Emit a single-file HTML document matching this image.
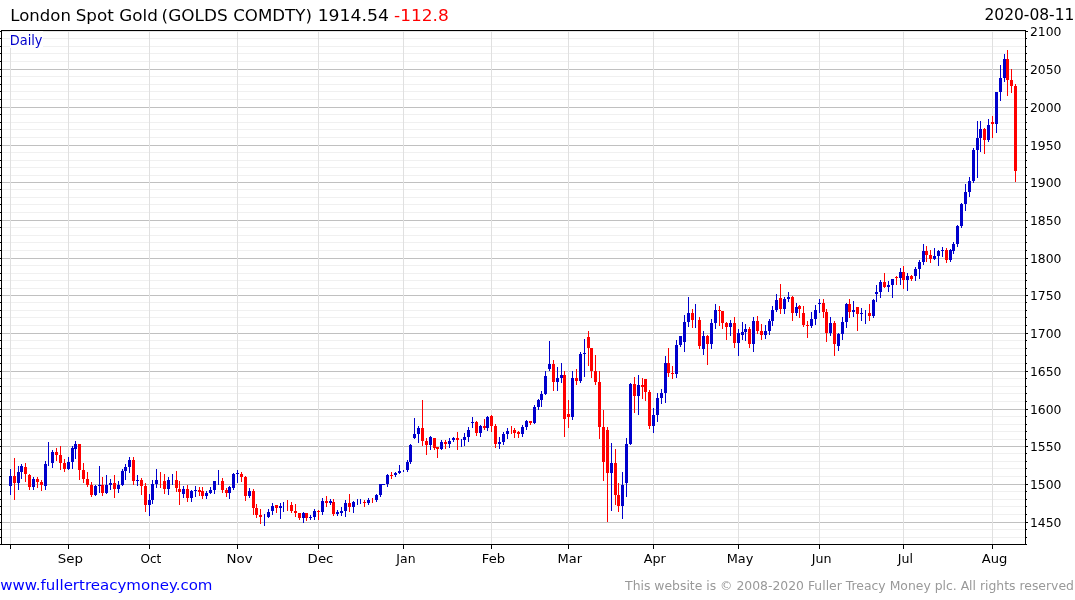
<!DOCTYPE html>
<html><head><meta charset="utf-8"><title>London Spot Gold</title>
<style>
html,body{margin:0;padding:0;background:#fff;}
body{width:1075px;height:600px;overflow:hidden;position:relative;font-family:"DejaVu Sans","Liberation Sans",sans-serif;}
svg{position:absolute;left:0;top:0;will-change:transform;}
text{font-family:"DejaVu Sans","Liberation Sans",sans-serif;}
</style></head><body>
<svg width="1075" height="600" viewBox="0 0 1075 600">
<rect width="1075" height="600" fill="#fff"/>
<g shape-rendering="crispEdges">
<rect x="2" y="537" width="1023" height="1" fill="#f0f0f0"/>
<rect x="2" y="529" width="1023" height="1" fill="#f0f0f0"/>
<rect x="2" y="522" width="1023" height="1" fill="#c0c0c0"/>
<rect x="2" y="514" width="1023" height="1" fill="#f0f0f0"/>
<rect x="2" y="506" width="1023" height="1" fill="#f0f0f0"/>
<rect x="2" y="499" width="1023" height="1" fill="#f0f0f0"/>
<rect x="2" y="491" width="1023" height="1" fill="#f0f0f0"/>
<rect x="2" y="484" width="1023" height="1" fill="#c0c0c0"/>
<rect x="2" y="476" width="1023" height="1" fill="#f0f0f0"/>
<rect x="2" y="468" width="1023" height="1" fill="#f0f0f0"/>
<rect x="2" y="461" width="1023" height="1" fill="#f0f0f0"/>
<rect x="2" y="453" width="1023" height="1" fill="#f0f0f0"/>
<rect x="2" y="446" width="1023" height="1" fill="#c0c0c0"/>
<rect x="2" y="439" width="1023" height="1" fill="#f0f0f0"/>
<rect x="2" y="431" width="1023" height="1" fill="#f0f0f0"/>
<rect x="2" y="424" width="1023" height="1" fill="#f0f0f0"/>
<rect x="2" y="416" width="1023" height="1" fill="#f0f0f0"/>
<rect x="2" y="409" width="1023" height="1" fill="#c0c0c0"/>
<rect x="2" y="401" width="1023" height="1" fill="#f0f0f0"/>
<rect x="2" y="393" width="1023" height="1" fill="#f0f0f0"/>
<rect x="2" y="386" width="1023" height="1" fill="#f0f0f0"/>
<rect x="2" y="378" width="1023" height="1" fill="#f0f0f0"/>
<rect x="2" y="371" width="1023" height="1" fill="#c0c0c0"/>
<rect x="2" y="363" width="1023" height="1" fill="#f0f0f0"/>
<rect x="2" y="355" width="1023" height="1" fill="#f0f0f0"/>
<rect x="2" y="348" width="1023" height="1" fill="#f0f0f0"/>
<rect x="2" y="340" width="1023" height="1" fill="#f0f0f0"/>
<rect x="2" y="333" width="1023" height="1" fill="#c0c0c0"/>
<rect x="2" y="325" width="1023" height="1" fill="#f0f0f0"/>
<rect x="2" y="317" width="1023" height="1" fill="#f0f0f0"/>
<rect x="2" y="310" width="1023" height="1" fill="#f0f0f0"/>
<rect x="2" y="302" width="1023" height="1" fill="#f0f0f0"/>
<rect x="2" y="295" width="1023" height="1" fill="#c0c0c0"/>
<rect x="2" y="288" width="1023" height="1" fill="#f0f0f0"/>
<rect x="2" y="280" width="1023" height="1" fill="#f0f0f0"/>
<rect x="2" y="273" width="1023" height="1" fill="#f0f0f0"/>
<rect x="2" y="265" width="1023" height="1" fill="#f0f0f0"/>
<rect x="2" y="258" width="1023" height="1" fill="#c0c0c0"/>
<rect x="2" y="250" width="1023" height="1" fill="#f0f0f0"/>
<rect x="2" y="242" width="1023" height="1" fill="#f0f0f0"/>
<rect x="2" y="235" width="1023" height="1" fill="#f0f0f0"/>
<rect x="2" y="227" width="1023" height="1" fill="#f0f0f0"/>
<rect x="2" y="220" width="1023" height="1" fill="#c0c0c0"/>
<rect x="2" y="212" width="1023" height="1" fill="#f0f0f0"/>
<rect x="2" y="204" width="1023" height="1" fill="#f0f0f0"/>
<rect x="2" y="197" width="1023" height="1" fill="#f0f0f0"/>
<rect x="2" y="189" width="1023" height="1" fill="#f0f0f0"/>
<rect x="2" y="182" width="1023" height="1" fill="#c0c0c0"/>
<rect x="2" y="175" width="1023" height="1" fill="#f0f0f0"/>
<rect x="2" y="167" width="1023" height="1" fill="#f0f0f0"/>
<rect x="2" y="160" width="1023" height="1" fill="#f0f0f0"/>
<rect x="2" y="152" width="1023" height="1" fill="#f0f0f0"/>
<rect x="2" y="145" width="1023" height="1" fill="#c0c0c0"/>
<rect x="2" y="137" width="1023" height="1" fill="#f0f0f0"/>
<rect x="2" y="129" width="1023" height="1" fill="#f0f0f0"/>
<rect x="2" y="122" width="1023" height="1" fill="#f0f0f0"/>
<rect x="2" y="114" width="1023" height="1" fill="#f0f0f0"/>
<rect x="2" y="107" width="1023" height="1" fill="#c0c0c0"/>
<rect x="2" y="99" width="1023" height="1" fill="#f0f0f0"/>
<rect x="2" y="91" width="1023" height="1" fill="#f0f0f0"/>
<rect x="2" y="84" width="1023" height="1" fill="#f0f0f0"/>
<rect x="2" y="76" width="1023" height="1" fill="#f0f0f0"/>
<rect x="2" y="69" width="1023" height="1" fill="#c0c0c0"/>
<rect x="2" y="61" width="1023" height="1" fill="#f0f0f0"/>
<rect x="2" y="53" width="1023" height="1" fill="#f0f0f0"/>
<rect x="2" y="46" width="1023" height="1" fill="#f0f0f0"/>
<rect x="2" y="38" width="1023" height="1" fill="#f0f0f0"/>
<rect x="2" y="31" width="1023" height="1" fill="#e4e4e4"/>
<rect x="10" y="31" width="1" height="513" fill="#e0e0e0"/>
<rect x="68" y="31" width="1" height="513" fill="#e0e0e0"/>
<rect x="149" y="31" width="1" height="513" fill="#e0e0e0"/>
<rect x="237" y="31" width="1" height="513" fill="#e0e0e0"/>
<rect x="318" y="31" width="1" height="513" fill="#e0e0e0"/>
<rect x="403" y="31" width="1" height="513" fill="#e0e0e0"/>
<rect x="491" y="31" width="1" height="513" fill="#e0e0e0"/>
<rect x="568" y="31" width="1" height="513" fill="#e0e0e0"/>
<rect x="653" y="31" width="1" height="513" fill="#e0e0e0"/>
<rect x="738" y="31" width="1" height="513" fill="#e0e0e0"/>
<rect x="819" y="31" width="1" height="513" fill="#e0e0e0"/>
<rect x="903" y="31" width="1" height="513" fill="#e0e0e0"/>
<rect x="992" y="31" width="1" height="513" fill="#e0e0e0"/>
</g>
<g shape-rendering="crispEdges">
<rect x="10" y="469" width="1" height="26" fill="#0000cc"/>
<rect x="9" y="476" width="3" height="10" fill="#0000cc"/>
<rect x="14" y="458" width="1" height="42" fill="#ff0000"/>
<rect x="13" y="476" width="3" height="7" fill="#ff0000"/>
<rect x="18" y="466" width="1" height="24" fill="#0000cc"/>
<rect x="17" y="472" width="3" height="11" fill="#0000cc"/>
<rect x="21" y="464" width="1" height="15" fill="#0000cc"/>
<rect x="20" y="466" width="3" height="6" fill="#0000cc"/>
<rect x="25" y="463" width="1" height="19" fill="#ff0000"/>
<rect x="24" y="467" width="3" height="7" fill="#ff0000"/>
<rect x="29" y="474" width="1" height="16" fill="#ff0000"/>
<rect x="28" y="475" width="3" height="12" fill="#ff0000"/>
<rect x="33" y="477" width="1" height="13" fill="#0000cc"/>
<rect x="32" y="479" width="3" height="8" fill="#0000cc"/>
<rect x="37" y="477" width="1" height="11" fill="#ff0000"/>
<rect x="36" y="479" width="3" height="3" fill="#ff0000"/>
<rect x="41" y="480" width="1" height="11" fill="#ff0000"/>
<rect x="40" y="482" width="3" height="3" fill="#ff0000"/>
<rect x="45" y="461" width="1" height="29" fill="#0000cc"/>
<rect x="44" y="464" width="3" height="22" fill="#0000cc"/>
<rect x="48" y="442" width="1" height="24" fill="#0000cc"/>
<rect x="52" y="450" width="1" height="18" fill="#0000cc"/>
<rect x="51" y="452" width="3" height="11" fill="#0000cc"/>
<rect x="56" y="448" width="1" height="13" fill="#ff0000"/>
<rect x="55" y="452" width="3" height="3" fill="#ff0000"/>
<rect x="60" y="446" width="1" height="24" fill="#ff0000"/>
<rect x="59" y="455" width="3" height="8" fill="#ff0000"/>
<rect x="64" y="459" width="1" height="13" fill="#ff0000"/>
<rect x="63" y="463" width="3" height="6" fill="#ff0000"/>
<rect x="68" y="457" width="1" height="13" fill="#0000cc"/>
<rect x="67" y="462" width="3" height="7" fill="#0000cc"/>
<rect x="72" y="446" width="1" height="23" fill="#0000cc"/>
<rect x="71" y="448" width="3" height="14" fill="#0000cc"/>
<rect x="75" y="441" width="1" height="18" fill="#0000cc"/>
<rect x="74" y="444" width="3" height="5" fill="#0000cc"/>
<rect x="79" y="444" width="1" height="36" fill="#ff0000"/>
<rect x="78" y="444" width="3" height="26" fill="#ff0000"/>
<rect x="83" y="463" width="1" height="20" fill="#ff0000"/>
<rect x="82" y="470" width="3" height="9" fill="#ff0000"/>
<rect x="87" y="472" width="1" height="15" fill="#ff0000"/>
<rect x="86" y="479" width="3" height="6" fill="#ff0000"/>
<rect x="91" y="482" width="1" height="15" fill="#ff0000"/>
<rect x="90" y="485" width="3" height="10" fill="#ff0000"/>
<rect x="95" y="485" width="1" height="11" fill="#0000cc"/>
<rect x="94" y="486" width="3" height="9" fill="#0000cc"/>
<rect x="99" y="466" width="1" height="27" fill="#0000cc"/>
<rect x="98" y="485" width="3" height="1" fill="#0000cc"/>
<rect x="102" y="477" width="1" height="19" fill="#ff0000"/>
<rect x="101" y="485" width="3" height="8" fill="#ff0000"/>
<rect x="106" y="475" width="1" height="19" fill="#0000cc"/>
<rect x="105" y="485" width="3" height="8" fill="#0000cc"/>
<rect x="110" y="479" width="1" height="11" fill="#0000cc"/>
<rect x="109" y="483" width="3" height="2" fill="#0000cc"/>
<rect x="114" y="475" width="1" height="23" fill="#ff0000"/>
<rect x="113" y="483" width="3" height="6" fill="#ff0000"/>
<rect x="118" y="481" width="1" height="12" fill="#0000cc"/>
<rect x="117" y="485" width="3" height="4" fill="#0000cc"/>
<rect x="122" y="469" width="1" height="17" fill="#0000cc"/>
<rect x="121" y="471" width="3" height="14" fill="#0000cc"/>
<rect x="125" y="464" width="1" height="16" fill="#0000cc"/>
<rect x="124" y="467" width="3" height="4" fill="#0000cc"/>
<rect x="129" y="457" width="1" height="16" fill="#0000cc"/>
<rect x="128" y="460" width="3" height="7" fill="#0000cc"/>
<rect x="133" y="457" width="1" height="28" fill="#ff0000"/>
<rect x="132" y="460" width="3" height="21" fill="#ff0000"/>
<rect x="137" y="475" width="1" height="11" fill="#0000cc"/>
<rect x="136" y="480" width="3" height="1" fill="#0000cc"/>
<rect x="141" y="478" width="1" height="17" fill="#ff0000"/>
<rect x="140" y="480" width="3" height="6" fill="#ff0000"/>
<rect x="145" y="483" width="1" height="29" fill="#ff0000"/>
<rect x="144" y="486" width="3" height="19" fill="#ff0000"/>
<rect x="149" y="494" width="1" height="22" fill="#0000cc"/>
<rect x="148" y="500" width="3" height="5" fill="#0000cc"/>
<rect x="152" y="480" width="1" height="24" fill="#0000cc"/>
<rect x="151" y="484" width="3" height="16" fill="#0000cc"/>
<rect x="156" y="469" width="1" height="19" fill="#0000cc"/>
<rect x="155" y="480" width="3" height="4" fill="#0000cc"/>
<rect x="160" y="472" width="1" height="16" fill="#ff0000"/>
<rect x="164" y="474" width="1" height="20" fill="#ff0000"/>
<rect x="163" y="481" width="3" height="8" fill="#ff0000"/>
<rect x="168" y="477" width="1" height="18" fill="#0000cc"/>
<rect x="167" y="480" width="3" height="9" fill="#0000cc"/>
<rect x="172" y="474" width="1" height="11" fill="#0000cc"/>
<rect x="176" y="471" width="1" height="21" fill="#ff0000"/>
<rect x="175" y="480" width="3" height="8" fill="#ff0000"/>
<rect x="179" y="481" width="1" height="24" fill="#ff0000"/>
<rect x="178" y="489" width="3" height="3" fill="#ff0000"/>
<rect x="183" y="486" width="1" height="12" fill="#0000cc"/>
<rect x="182" y="489" width="3" height="5" fill="#0000cc"/>
<rect x="187" y="485" width="1" height="17" fill="#ff0000"/>
<rect x="186" y="489" width="3" height="9" fill="#ff0000"/>
<rect x="191" y="490" width="1" height="12" fill="#0000cc"/>
<rect x="190" y="491" width="3" height="7" fill="#0000cc"/>
<rect x="195" y="486" width="1" height="11" fill="#0000cc"/>
<rect x="194" y="490" width="3" height="1" fill="#0000cc"/>
<rect x="199" y="487" width="1" height="9" fill="#ff0000"/>
<rect x="198" y="490" width="3" height="2" fill="#ff0000"/>
<rect x="202" y="487" width="1" height="12" fill="#ff0000"/>
<rect x="201" y="491" width="3" height="5" fill="#ff0000"/>
<rect x="206" y="491" width="1" height="8" fill="#0000cc"/>
<rect x="205" y="493" width="3" height="3" fill="#0000cc"/>
<rect x="210" y="487" width="1" height="7" fill="#0000cc"/>
<rect x="209" y="490" width="3" height="3" fill="#0000cc"/>
<rect x="214" y="481" width="1" height="13" fill="#0000cc"/>
<rect x="213" y="481" width="3" height="9" fill="#0000cc"/>
<rect x="218" y="470" width="1" height="15" fill="#0000cc"/>
<rect x="222" y="478" width="1" height="15" fill="#ff0000"/>
<rect x="221" y="481" width="3" height="9" fill="#ff0000"/>
<rect x="226" y="488" width="1" height="9" fill="#ff0000"/>
<rect x="225" y="490" width="3" height="3" fill="#ff0000"/>
<rect x="229" y="486" width="1" height="13" fill="#0000cc"/>
<rect x="228" y="487" width="3" height="6" fill="#0000cc"/>
<rect x="233" y="473" width="1" height="17" fill="#0000cc"/>
<rect x="232" y="474" width="3" height="14" fill="#0000cc"/>
<rect x="237" y="470" width="1" height="13" fill="#0000cc"/>
<rect x="236" y="473" width="3" height="1" fill="#0000cc"/>
<rect x="241" y="472" width="1" height="10" fill="#ff0000"/>
<rect x="240" y="474" width="3" height="3" fill="#ff0000"/>
<rect x="245" y="476" width="1" height="25" fill="#ff0000"/>
<rect x="244" y="477" width="3" height="19" fill="#ff0000"/>
<rect x="249" y="488" width="1" height="10" fill="#0000cc"/>
<rect x="248" y="491" width="3" height="5" fill="#0000cc"/>
<rect x="253" y="489" width="1" height="26" fill="#ff0000"/>
<rect x="252" y="491" width="3" height="17" fill="#ff0000"/>
<rect x="256" y="504" width="1" height="14" fill="#ff0000"/>
<rect x="255" y="508" width="3" height="7" fill="#ff0000"/>
<rect x="260" y="509" width="1" height="15" fill="#ff0000"/>
<rect x="259" y="515" width="3" height="2" fill="#ff0000"/>
<rect x="264" y="514" width="1" height="12" fill="#0000cc"/>
<rect x="268" y="509" width="1" height="9" fill="#0000cc"/>
<rect x="267" y="512" width="3" height="5" fill="#0000cc"/>
<rect x="272" y="503" width="1" height="12" fill="#0000cc"/>
<rect x="271" y="506" width="3" height="5" fill="#0000cc"/>
<rect x="276" y="505" width="1" height="8" fill="#ff0000"/>
<rect x="275" y="505" width="3" height="3" fill="#ff0000"/>
<rect x="280" y="503" width="1" height="16" fill="#0000cc"/>
<rect x="279" y="506" width="3" height="2" fill="#0000cc"/>
<rect x="283" y="502" width="1" height="10" fill="#0000cc"/>
<rect x="287" y="500" width="1" height="11" fill="#ff0000"/>
<rect x="291" y="502" width="1" height="11" fill="#ff0000"/>
<rect x="290" y="505" width="3" height="6" fill="#ff0000"/>
<rect x="295" y="504" width="1" height="13" fill="#ff0000"/>
<rect x="294" y="511" width="3" height="2" fill="#ff0000"/>
<rect x="299" y="513" width="1" height="7" fill="#ff0000"/>
<rect x="298" y="513" width="3" height="5" fill="#ff0000"/>
<rect x="303" y="512" width="1" height="11" fill="#0000cc"/>
<rect x="302" y="513" width="3" height="5" fill="#0000cc"/>
<rect x="306" y="513" width="1" height="8" fill="#ff0000"/>
<rect x="305" y="513" width="3" height="5" fill="#ff0000"/>
<rect x="310" y="515" width="1" height="5" fill="#0000cc"/>
<rect x="309" y="517" width="3" height="1" fill="#0000cc"/>
<rect x="314" y="509" width="1" height="11" fill="#0000cc"/>
<rect x="313" y="511" width="3" height="6" fill="#0000cc"/>
<rect x="318" y="510" width="1" height="10" fill="#ff0000"/>
<rect x="317" y="511" width="3" height="1" fill="#ff0000"/>
<rect x="322" y="498" width="1" height="17" fill="#0000cc"/>
<rect x="321" y="501" width="3" height="11" fill="#0000cc"/>
<rect x="326" y="496" width="1" height="11" fill="#ff0000"/>
<rect x="325" y="501" width="3" height="2" fill="#ff0000"/>
<rect x="330" y="499" width="1" height="6" fill="#0000cc"/>
<rect x="329" y="501" width="3" height="2" fill="#0000cc"/>
<rect x="333" y="499" width="1" height="17" fill="#ff0000"/>
<rect x="332" y="502" width="3" height="12" fill="#ff0000"/>
<rect x="337" y="510" width="1" height="6" fill="#0000cc"/>
<rect x="336" y="512" width="3" height="2" fill="#0000cc"/>
<rect x="341" y="507" width="1" height="9" fill="#0000cc"/>
<rect x="340" y="511" width="3" height="2" fill="#0000cc"/>
<rect x="345" y="500" width="1" height="17" fill="#0000cc"/>
<rect x="344" y="503" width="3" height="8" fill="#0000cc"/>
<rect x="349" y="494" width="1" height="18" fill="#ff0000"/>
<rect x="348" y="503" width="3" height="4" fill="#ff0000"/>
<rect x="353" y="501" width="1" height="12" fill="#0000cc"/>
<rect x="352" y="502" width="3" height="5" fill="#0000cc"/>
<rect x="357" y="499" width="1" height="6" fill="#0000cc"/>
<rect x="360" y="499" width="1" height="5" fill="#0000cc"/>
<rect x="364" y="500" width="1" height="7" fill="#ff0000"/>
<rect x="363" y="502" width="3" height="1" fill="#ff0000"/>
<rect x="368" y="498" width="1" height="7" fill="#0000cc"/>
<rect x="367" y="500" width="3" height="3" fill="#0000cc"/>
<rect x="372" y="498" width="1" height="5" fill="#ff0000"/>
<rect x="376" y="494" width="1" height="8" fill="#0000cc"/>
<rect x="375" y="495" width="3" height="5" fill="#0000cc"/>
<rect x="380" y="484" width="1" height="13" fill="#0000cc"/>
<rect x="379" y="484" width="3" height="11" fill="#0000cc"/>
<rect x="382" y="484" width="3" height="1" fill="#0000cc"/>
<rect x="387" y="474" width="1" height="13" fill="#0000cc"/>
<rect x="386" y="475" width="3" height="9" fill="#0000cc"/>
<rect x="391" y="472" width="1" height="7" fill="#ff0000"/>
<rect x="390" y="475" width="3" height="1" fill="#ff0000"/>
<rect x="395" y="472" width="1" height="5" fill="#0000cc"/>
<rect x="394" y="473" width="3" height="2" fill="#0000cc"/>
<rect x="399" y="465" width="1" height="9" fill="#0000cc"/>
<rect x="398" y="471" width="3" height="2" fill="#0000cc"/>
<rect x="403" y="470" width="1" height="2" fill="#0000cc"/>
<rect x="407" y="460" width="1" height="12" fill="#0000cc"/>
<rect x="406" y="462" width="3" height="8" fill="#0000cc"/>
<rect x="410" y="444" width="1" height="20" fill="#0000cc"/>
<rect x="409" y="445" width="3" height="17" fill="#0000cc"/>
<rect x="414" y="418" width="1" height="21" fill="#0000cc"/>
<rect x="413" y="434" width="3" height="4" fill="#0000cc"/>
<rect x="418" y="426" width="1" height="17" fill="#0000cc"/>
<rect x="417" y="428" width="3" height="6" fill="#0000cc"/>
<rect x="422" y="400" width="1" height="46" fill="#ff0000"/>
<rect x="421" y="428" width="3" height="13" fill="#ff0000"/>
<rect x="426" y="438" width="1" height="17" fill="#ff0000"/>
<rect x="425" y="441" width="3" height="4" fill="#ff0000"/>
<rect x="430" y="436" width="1" height="14" fill="#0000cc"/>
<rect x="429" y="437" width="3" height="8" fill="#0000cc"/>
<rect x="434" y="438" width="1" height="12" fill="#ff0000"/>
<rect x="433" y="438" width="3" height="10" fill="#ff0000"/>
<rect x="437" y="447" width="1" height="11" fill="#ff0000"/>
<rect x="436" y="447" width="3" height="2" fill="#ff0000"/>
<rect x="441" y="440" width="1" height="10" fill="#0000cc"/>
<rect x="440" y="442" width="3" height="7" fill="#0000cc"/>
<rect x="445" y="440" width="1" height="9" fill="#ff0000"/>
<rect x="444" y="442" width="3" height="2" fill="#ff0000"/>
<rect x="449" y="438" width="1" height="10" fill="#0000cc"/>
<rect x="448" y="441" width="3" height="3" fill="#0000cc"/>
<rect x="453" y="437" width="1" height="5" fill="#0000cc"/>
<rect x="452" y="438" width="3" height="2" fill="#0000cc"/>
<rect x="457" y="432" width="1" height="18" fill="#ff0000"/>
<rect x="456" y="438" width="3" height="2" fill="#ff0000"/>
<rect x="461" y="439" width="1" height="8" fill="#0000cc"/>
<rect x="464" y="433" width="1" height="13" fill="#0000cc"/>
<rect x="463" y="437" width="3" height="3" fill="#0000cc"/>
<rect x="468" y="427" width="1" height="15" fill="#0000cc"/>
<rect x="467" y="430" width="3" height="7" fill="#0000cc"/>
<rect x="472" y="417" width="1" height="11" fill="#0000cc"/>
<rect x="471" y="422" width="3" height="1" fill="#0000cc"/>
<rect x="476" y="421" width="1" height="15" fill="#ff0000"/>
<rect x="475" y="422" width="3" height="11" fill="#ff0000"/>
<rect x="480" y="425" width="1" height="12" fill="#0000cc"/>
<rect x="479" y="426" width="3" height="7" fill="#0000cc"/>
<rect x="484" y="419" width="1" height="11" fill="#ff0000"/>
<rect x="483" y="426" width="3" height="2" fill="#ff0000"/>
<rect x="487" y="416" width="1" height="15" fill="#0000cc"/>
<rect x="486" y="417" width="3" height="11" fill="#0000cc"/>
<rect x="491" y="415" width="1" height="17" fill="#ff0000"/>
<rect x="490" y="416" width="3" height="10" fill="#ff0000"/>
<rect x="495" y="424" width="1" height="24" fill="#ff0000"/>
<rect x="494" y="426" width="3" height="18" fill="#ff0000"/>
<rect x="499" y="437" width="1" height="12" fill="#0000cc"/>
<rect x="498" y="442" width="3" height="2" fill="#0000cc"/>
<rect x="503" y="432" width="1" height="13" fill="#0000cc"/>
<rect x="502" y="434" width="3" height="8" fill="#0000cc"/>
<rect x="507" y="428" width="1" height="11" fill="#0000cc"/>
<rect x="506" y="431" width="3" height="3" fill="#0000cc"/>
<rect x="511" y="426" width="1" height="8" fill="#ff0000"/>
<rect x="514" y="428" width="1" height="10" fill="#ff0000"/>
<rect x="513" y="430" width="3" height="3" fill="#ff0000"/>
<rect x="518" y="431" width="1" height="7" fill="#ff0000"/>
<rect x="517" y="432" width="3" height="2" fill="#ff0000"/>
<rect x="522" y="425" width="1" height="12" fill="#0000cc"/>
<rect x="521" y="427" width="3" height="7" fill="#0000cc"/>
<rect x="526" y="420" width="1" height="10" fill="#0000cc"/>
<rect x="525" y="421" width="3" height="6" fill="#0000cc"/>
<rect x="530" y="421" width="1" height="4" fill="#ff0000"/>
<rect x="529" y="421" width="3" height="2" fill="#ff0000"/>
<rect x="534" y="405" width="1" height="19" fill="#0000cc"/>
<rect x="533" y="407" width="3" height="16" fill="#0000cc"/>
<rect x="538" y="399" width="1" height="11" fill="#0000cc"/>
<rect x="537" y="400" width="3" height="7" fill="#0000cc"/>
<rect x="541" y="391" width="1" height="16" fill="#0000cc"/>
<rect x="540" y="394" width="3" height="6" fill="#0000cc"/>
<rect x="545" y="371" width="1" height="24" fill="#0000cc"/>
<rect x="544" y="376" width="3" height="18" fill="#0000cc"/>
<rect x="549" y="341" width="1" height="30" fill="#0000cc"/>
<rect x="548" y="364" width="3" height="5" fill="#0000cc"/>
<rect x="553" y="360" width="1" height="31" fill="#ff0000"/>
<rect x="552" y="364" width="3" height="18" fill="#ff0000"/>
<rect x="557" y="367" width="1" height="24" fill="#0000cc"/>
<rect x="556" y="378" width="3" height="4" fill="#0000cc"/>
<rect x="561" y="363" width="1" height="20" fill="#0000cc"/>
<rect x="560" y="375" width="3" height="3" fill="#0000cc"/>
<rect x="564" y="371" width="1" height="66" fill="#ff0000"/>
<rect x="563" y="375" width="3" height="44" fill="#ff0000"/>
<rect x="568" y="400" width="1" height="28" fill="#ff0000"/>
<rect x="567" y="414" width="3" height="3" fill="#ff0000"/>
<rect x="572" y="371" width="1" height="49" fill="#0000cc"/>
<rect x="571" y="378" width="3" height="39" fill="#0000cc"/>
<rect x="576" y="369" width="1" height="16" fill="#ff0000"/>
<rect x="575" y="378" width="3" height="3" fill="#ff0000"/>
<rect x="580" y="352" width="1" height="31" fill="#0000cc"/>
<rect x="579" y="354" width="3" height="27" fill="#0000cc"/>
<rect x="584" y="339" width="1" height="38" fill="#0000cc"/>
<rect x="583" y="353" width="3" height="1" fill="#0000cc"/>
<rect x="588" y="331" width="1" height="35" fill="#ff0000"/>
<rect x="587" y="337" width="3" height="11" fill="#ff0000"/>
<rect x="591" y="348" width="1" height="30" fill="#ff0000"/>
<rect x="590" y="348" width="3" height="23" fill="#ff0000"/>
<rect x="595" y="355" width="1" height="30" fill="#ff0000"/>
<rect x="594" y="371" width="3" height="11" fill="#ff0000"/>
<rect x="599" y="371" width="1" height="68" fill="#ff0000"/>
<rect x="598" y="382" width="3" height="45" fill="#ff0000"/>
<rect x="603" y="410" width="1" height="71" fill="#ff0000"/>
<rect x="602" y="427" width="3" height="35" fill="#ff0000"/>
<rect x="607" y="427" width="1" height="95" fill="#ff0000"/>
<rect x="606" y="430" width="3" height="43" fill="#ff0000"/>
<rect x="611" y="443" width="1" height="68" fill="#0000cc"/>
<rect x="610" y="463" width="3" height="10" fill="#0000cc"/>
<rect x="615" y="449" width="1" height="56" fill="#ff0000"/>
<rect x="614" y="463" width="3" height="32" fill="#ff0000"/>
<rect x="618" y="483" width="1" height="29" fill="#ff0000"/>
<rect x="617" y="495" width="3" height="11" fill="#ff0000"/>
<rect x="622" y="472" width="1" height="47" fill="#0000cc"/>
<rect x="621" y="485" width="3" height="21" fill="#0000cc"/>
<rect x="626" y="438" width="1" height="59" fill="#0000cc"/>
<rect x="625" y="444" width="3" height="39" fill="#0000cc"/>
<rect x="630" y="383" width="1" height="62" fill="#0000cc"/>
<rect x="629" y="384" width="3" height="60" fill="#0000cc"/>
<rect x="634" y="377" width="1" height="36" fill="#ff0000"/>
<rect x="633" y="384" width="3" height="12" fill="#ff0000"/>
<rect x="638" y="375" width="1" height="40" fill="#0000cc"/>
<rect x="637" y="385" width="3" height="11" fill="#0000cc"/>
<rect x="642" y="378" width="1" height="21" fill="#ff0000"/>
<rect x="641" y="385" width="3" height="2" fill="#ff0000"/>
<rect x="645" y="379" width="1" height="22" fill="#ff0000"/>
<rect x="644" y="379" width="3" height="13" fill="#ff0000"/>
<rect x="649" y="390" width="1" height="39" fill="#ff0000"/>
<rect x="648" y="392" width="3" height="34" fill="#ff0000"/>
<rect x="653" y="408" width="1" height="25" fill="#0000cc"/>
<rect x="652" y="415" width="3" height="11" fill="#0000cc"/>
<rect x="657" y="393" width="1" height="29" fill="#0000cc"/>
<rect x="656" y="398" width="3" height="17" fill="#0000cc"/>
<rect x="661" y="389" width="1" height="15" fill="#0000cc"/>
<rect x="660" y="393" width="3" height="5" fill="#0000cc"/>
<rect x="665" y="356" width="1" height="47" fill="#0000cc"/>
<rect x="664" y="363" width="3" height="30" fill="#0000cc"/>
<rect x="668" y="348" width="1" height="29" fill="#ff0000"/>
<rect x="667" y="363" width="3" height="10" fill="#ff0000"/>
<rect x="672" y="366" width="1" height="13" fill="#ff0000"/>
<rect x="671" y="373" width="3" height="1" fill="#ff0000"/>
<rect x="676" y="340" width="1" height="38" fill="#0000cc"/>
<rect x="675" y="345" width="3" height="29" fill="#0000cc"/>
<rect x="680" y="336" width="1" height="11" fill="#0000cc"/>
<rect x="679" y="336" width="3" height="9" fill="#0000cc"/>
<rect x="684" y="315" width="1" height="37" fill="#0000cc"/>
<rect x="683" y="322" width="3" height="20" fill="#0000cc"/>
<rect x="688" y="297" width="1" height="30" fill="#0000cc"/>
<rect x="687" y="313" width="3" height="9" fill="#0000cc"/>
<rect x="692" y="309" width="1" height="19" fill="#ff0000"/>
<rect x="691" y="313" width="3" height="7" fill="#ff0000"/>
<rect x="695" y="304" width="1" height="24" fill="#0000cc"/>
<rect x="699" y="317" width="1" height="32" fill="#ff0000"/>
<rect x="698" y="320" width="3" height="26" fill="#ff0000"/>
<rect x="703" y="331" width="1" height="24" fill="#0000cc"/>
<rect x="702" y="336" width="3" height="13" fill="#0000cc"/>
<rect x="707" y="335" width="1" height="30" fill="#ff0000"/>
<rect x="706" y="336" width="3" height="8" fill="#ff0000"/>
<rect x="711" y="319" width="1" height="30" fill="#0000cc"/>
<rect x="710" y="323" width="3" height="21" fill="#0000cc"/>
<rect x="715" y="304" width="1" height="25" fill="#0000cc"/>
<rect x="714" y="310" width="3" height="13" fill="#0000cc"/>
<rect x="719" y="306" width="1" height="20" fill="#ff0000"/>
<rect x="718" y="310" width="3" height="1" fill="#ff0000"/>
<rect x="722" y="311" width="1" height="18" fill="#ff0000"/>
<rect x="721" y="311" width="3" height="12" fill="#ff0000"/>
<rect x="726" y="322" width="1" height="18" fill="#ff0000"/>
<rect x="725" y="323" width="3" height="4" fill="#ff0000"/>
<rect x="730" y="320" width="1" height="16" fill="#0000cc"/>
<rect x="729" y="323" width="3" height="4" fill="#0000cc"/>
<rect x="734" y="317" width="1" height="31" fill="#ff0000"/>
<rect x="733" y="323" width="3" height="20" fill="#ff0000"/>
<rect x="738" y="329" width="1" height="27" fill="#0000cc"/>
<rect x="737" y="333" width="3" height="10" fill="#0000cc"/>
<rect x="742" y="322" width="1" height="18" fill="#0000cc"/>
<rect x="741" y="332" width="3" height="3" fill="#0000cc"/>
<rect x="745" y="324" width="1" height="17" fill="#0000cc"/>
<rect x="744" y="329" width="3" height="3" fill="#0000cc"/>
<rect x="749" y="327" width="1" height="21" fill="#ff0000"/>
<rect x="748" y="329" width="3" height="15" fill="#ff0000"/>
<rect x="753" y="317" width="1" height="35" fill="#0000cc"/>
<rect x="752" y="321" width="3" height="23" fill="#0000cc"/>
<rect x="757" y="316" width="1" height="18" fill="#ff0000"/>
<rect x="756" y="321" width="3" height="10" fill="#ff0000"/>
<rect x="761" y="324" width="1" height="16" fill="#ff0000"/>
<rect x="760" y="331" width="3" height="4" fill="#ff0000"/>
<rect x="765" y="325" width="1" height="14" fill="#0000cc"/>
<rect x="764" y="331" width="3" height="4" fill="#0000cc"/>
<rect x="769" y="319" width="1" height="16" fill="#0000cc"/>
<rect x="768" y="321" width="3" height="10" fill="#0000cc"/>
<rect x="772" y="306" width="1" height="20" fill="#0000cc"/>
<rect x="771" y="310" width="3" height="11" fill="#0000cc"/>
<rect x="776" y="294" width="1" height="18" fill="#0000cc"/>
<rect x="775" y="300" width="3" height="10" fill="#0000cc"/>
<rect x="780" y="284" width="1" height="30" fill="#ff0000"/>
<rect x="779" y="298" width="3" height="11" fill="#ff0000"/>
<rect x="784" y="297" width="1" height="17" fill="#0000cc"/>
<rect x="783" y="299" width="3" height="10" fill="#0000cc"/>
<rect x="788" y="292" width="1" height="10" fill="#0000cc"/>
<rect x="787" y="297" width="3" height="2" fill="#0000cc"/>
<rect x="792" y="296" width="1" height="25" fill="#ff0000"/>
<rect x="791" y="297" width="3" height="16" fill="#ff0000"/>
<rect x="796" y="303" width="1" height="13" fill="#0000cc"/>
<rect x="795" y="307" width="3" height="6" fill="#0000cc"/>
<rect x="799" y="305" width="1" height="13" fill="#ff0000"/>
<rect x="798" y="306" width="3" height="3" fill="#ff0000"/>
<rect x="803" y="306" width="1" height="21" fill="#ff0000"/>
<rect x="802" y="313" width="3" height="12" fill="#ff0000"/>
<rect x="807" y="321" width="1" height="17" fill="#ff0000"/>
<rect x="806" y="325" width="3" height="1" fill="#ff0000"/>
<rect x="811" y="312" width="1" height="16" fill="#0000cc"/>
<rect x="810" y="319" width="3" height="7" fill="#0000cc"/>
<rect x="815" y="305" width="1" height="20" fill="#0000cc"/>
<rect x="814" y="310" width="3" height="9" fill="#0000cc"/>
<rect x="819" y="299" width="1" height="14" fill="#0000cc"/>
<rect x="818" y="303" width="3" height="1" fill="#0000cc"/>
<rect x="823" y="299" width="1" height="19" fill="#ff0000"/>
<rect x="822" y="303" width="3" height="9" fill="#ff0000"/>
<rect x="826" y="309" width="1" height="33" fill="#ff0000"/>
<rect x="825" y="312" width="3" height="21" fill="#ff0000"/>
<rect x="830" y="317" width="1" height="19" fill="#0000cc"/>
<rect x="829" y="323" width="3" height="10" fill="#0000cc"/>
<rect x="834" y="321" width="1" height="35" fill="#ff0000"/>
<rect x="833" y="323" width="3" height="21" fill="#ff0000"/>
<rect x="838" y="333" width="1" height="18" fill="#0000cc"/>
<rect x="837" y="334" width="3" height="12" fill="#0000cc"/>
<rect x="842" y="317" width="1" height="23" fill="#0000cc"/>
<rect x="841" y="322" width="3" height="12" fill="#0000cc"/>
<rect x="846" y="303" width="1" height="25" fill="#0000cc"/>
<rect x="845" y="304" width="3" height="18" fill="#0000cc"/>
<rect x="849" y="299" width="1" height="19" fill="#ff0000"/>
<rect x="848" y="304" width="3" height="8" fill="#ff0000"/>
<rect x="853" y="301" width="1" height="16" fill="#0000cc"/>
<rect x="852" y="310" width="3" height="2" fill="#0000cc"/>
<rect x="857" y="307" width="1" height="24" fill="#ff0000"/>
<rect x="856" y="307" width="3" height="7" fill="#ff0000"/>
<rect x="861" y="308" width="1" height="13" fill="#0000cc"/>
<rect x="860" y="313" width="3" height="1" fill="#0000cc"/>
<rect x="865" y="310" width="1" height="14" fill="#0000cc"/>
<rect x="869" y="304" width="1" height="17" fill="#ff0000"/>
<rect x="868" y="313" width="3" height="3" fill="#ff0000"/>
<rect x="873" y="299" width="1" height="19" fill="#0000cc"/>
<rect x="872" y="300" width="3" height="16" fill="#0000cc"/>
<rect x="876" y="285" width="1" height="17" fill="#0000cc"/>
<rect x="875" y="292" width="3" height="2" fill="#0000cc"/>
<rect x="880" y="280" width="1" height="18" fill="#0000cc"/>
<rect x="879" y="282" width="3" height="10" fill="#0000cc"/>
<rect x="884" y="273" width="1" height="15" fill="#ff0000"/>
<rect x="883" y="282" width="3" height="5" fill="#ff0000"/>
<rect x="888" y="281" width="1" height="11" fill="#0000cc"/>
<rect x="887" y="285" width="3" height="2" fill="#0000cc"/>
<rect x="892" y="279" width="1" height="19" fill="#0000cc"/>
<rect x="891" y="279" width="3" height="6" fill="#0000cc"/>
<rect x="896" y="276" width="1" height="9" fill="#ff0000"/>
<rect x="895" y="277" width="3" height="1" fill="#ff0000"/>
<rect x="900" y="268" width="1" height="17" fill="#0000cc"/>
<rect x="899" y="272" width="3" height="6" fill="#0000cc"/>
<rect x="903" y="266" width="1" height="23" fill="#ff0000"/>
<rect x="902" y="272" width="3" height="8" fill="#ff0000"/>
<rect x="907" y="273" width="1" height="18" fill="#0000cc"/>
<rect x="906" y="276" width="3" height="4" fill="#0000cc"/>
<rect x="911" y="275" width="1" height="6" fill="#ff0000"/>
<rect x="910" y="276" width="3" height="3" fill="#ff0000"/>
<rect x="915" y="267" width="1" height="14" fill="#0000cc"/>
<rect x="914" y="269" width="3" height="7" fill="#0000cc"/>
<rect x="919" y="260" width="1" height="19" fill="#0000cc"/>
<rect x="918" y="262" width="3" height="7" fill="#0000cc"/>
<rect x="923" y="244" width="1" height="21" fill="#0000cc"/>
<rect x="922" y="251" width="3" height="11" fill="#0000cc"/>
<rect x="926" y="246" width="1" height="16" fill="#ff0000"/>
<rect x="925" y="251" width="3" height="4" fill="#ff0000"/>
<rect x="930" y="250" width="1" height="13" fill="#ff0000"/>
<rect x="929" y="255" width="3" height="4" fill="#ff0000"/>
<rect x="934" y="248" width="1" height="12" fill="#0000cc"/>
<rect x="933" y="256" width="3" height="3" fill="#0000cc"/>
<rect x="938" y="250" width="1" height="16" fill="#0000cc"/>
<rect x="937" y="251" width="3" height="5" fill="#0000cc"/>
<rect x="942" y="247" width="1" height="10" fill="#0000cc"/>
<rect x="941" y="250" width="3" height="1" fill="#0000cc"/>
<rect x="946" y="248" width="1" height="15" fill="#ff0000"/>
<rect x="945" y="250" width="3" height="10" fill="#ff0000"/>
<rect x="950" y="249" width="1" height="13" fill="#0000cc"/>
<rect x="949" y="250" width="3" height="10" fill="#0000cc"/>
<rect x="953" y="242" width="1" height="12" fill="#0000cc"/>
<rect x="952" y="244" width="3" height="7" fill="#0000cc"/>
<rect x="957" y="225" width="1" height="22" fill="#0000cc"/>
<rect x="956" y="226" width="3" height="18" fill="#0000cc"/>
<rect x="961" y="203" width="1" height="25" fill="#0000cc"/>
<rect x="960" y="204" width="3" height="22" fill="#0000cc"/>
<rect x="965" y="184" width="1" height="27" fill="#0000cc"/>
<rect x="964" y="192" width="3" height="12" fill="#0000cc"/>
<rect x="969" y="177" width="1" height="20" fill="#0000cc"/>
<rect x="968" y="181" width="3" height="11" fill="#0000cc"/>
<rect x="973" y="148" width="1" height="35" fill="#0000cc"/>
<rect x="972" y="150" width="3" height="31" fill="#0000cc"/>
<rect x="977" y="121" width="1" height="57" fill="#0000cc"/>
<rect x="976" y="138" width="3" height="12" fill="#0000cc"/>
<rect x="980" y="121" width="1" height="31" fill="#0000cc"/>
<rect x="979" y="129" width="3" height="9" fill="#0000cc"/>
<rect x="984" y="128" width="1" height="26" fill="#ff0000"/>
<rect x="983" y="129" width="3" height="11" fill="#ff0000"/>
<rect x="988" y="119" width="1" height="23" fill="#0000cc"/>
<rect x="987" y="125" width="3" height="15" fill="#0000cc"/>
<rect x="992" y="116" width="1" height="22" fill="#ff0000"/>
<rect x="991" y="122" width="3" height="2" fill="#ff0000"/>
<rect x="996" y="92" width="1" height="41" fill="#0000cc"/>
<rect x="995" y="92" width="3" height="32" fill="#0000cc"/>
<rect x="1000" y="65" width="1" height="36" fill="#0000cc"/>
<rect x="999" y="78" width="3" height="14" fill="#0000cc"/>
<rect x="1004" y="54" width="1" height="28" fill="#0000cc"/>
<rect x="1003" y="59" width="3" height="19" fill="#0000cc"/>
<rect x="1007" y="50" width="1" height="46" fill="#ff0000"/>
<rect x="1006" y="59" width="3" height="21" fill="#ff0000"/>
<rect x="1011" y="69" width="1" height="24" fill="#ff0000"/>
<rect x="1010" y="80" width="3" height="6" fill="#ff0000"/>
<rect x="1015" y="84" width="1" height="98" fill="#ff0000"/>
<rect x="1014" y="86" width="3" height="85" fill="#ff0000"/>
</g>
<g shape-rendering="crispEdges" fill="#000">
<rect x="1" y="30" width="1025" height="1"/>
<rect x="1" y="544" width="1025" height="1"/>
<rect x="1" y="30" width="1" height="515"/>
<rect x="1025" y="30" width="1" height="515"/>
<rect x="1026" y="537" width="1" height="1"/>
<rect x="0" y="537" width="1" height="1"/>
<rect x="1026" y="529" width="1" height="1"/>
<rect x="0" y="529" width="1" height="1"/>
<rect x="1026" y="522" width="2" height="1"/>
<rect x="0" y="522" width="1" height="1"/>
<rect x="1026" y="514" width="1" height="1"/>
<rect x="0" y="514" width="1" height="1"/>
<rect x="1026" y="506" width="1" height="1"/>
<rect x="0" y="506" width="1" height="1"/>
<rect x="1026" y="499" width="1" height="1"/>
<rect x="0" y="499" width="1" height="1"/>
<rect x="1026" y="491" width="1" height="1"/>
<rect x="0" y="491" width="1" height="1"/>
<rect x="1026" y="484" width="2" height="1"/>
<rect x="0" y="484" width="1" height="1"/>
<rect x="1026" y="476" width="1" height="1"/>
<rect x="0" y="476" width="1" height="1"/>
<rect x="1026" y="468" width="1" height="1"/>
<rect x="0" y="468" width="1" height="1"/>
<rect x="1026" y="461" width="1" height="1"/>
<rect x="0" y="461" width="1" height="1"/>
<rect x="1026" y="453" width="1" height="1"/>
<rect x="0" y="453" width="1" height="1"/>
<rect x="1026" y="446" width="2" height="1"/>
<rect x="0" y="446" width="1" height="1"/>
<rect x="1026" y="439" width="1" height="1"/>
<rect x="0" y="439" width="1" height="1"/>
<rect x="1026" y="431" width="1" height="1"/>
<rect x="0" y="431" width="1" height="1"/>
<rect x="1026" y="424" width="1" height="1"/>
<rect x="0" y="424" width="1" height="1"/>
<rect x="1026" y="416" width="1" height="1"/>
<rect x="0" y="416" width="1" height="1"/>
<rect x="1026" y="409" width="2" height="1"/>
<rect x="0" y="409" width="1" height="1"/>
<rect x="1026" y="401" width="1" height="1"/>
<rect x="0" y="401" width="1" height="1"/>
<rect x="1026" y="393" width="1" height="1"/>
<rect x="0" y="393" width="1" height="1"/>
<rect x="1026" y="386" width="1" height="1"/>
<rect x="0" y="386" width="1" height="1"/>
<rect x="1026" y="378" width="1" height="1"/>
<rect x="0" y="378" width="1" height="1"/>
<rect x="1026" y="371" width="2" height="1"/>
<rect x="0" y="371" width="1" height="1"/>
<rect x="1026" y="363" width="1" height="1"/>
<rect x="0" y="363" width="1" height="1"/>
<rect x="1026" y="355" width="1" height="1"/>
<rect x="0" y="355" width="1" height="1"/>
<rect x="1026" y="348" width="1" height="1"/>
<rect x="0" y="348" width="1" height="1"/>
<rect x="1026" y="340" width="1" height="1"/>
<rect x="0" y="340" width="1" height="1"/>
<rect x="1026" y="333" width="2" height="1"/>
<rect x="0" y="333" width="1" height="1"/>
<rect x="1026" y="325" width="1" height="1"/>
<rect x="0" y="325" width="1" height="1"/>
<rect x="1026" y="317" width="1" height="1"/>
<rect x="0" y="317" width="1" height="1"/>
<rect x="1026" y="310" width="1" height="1"/>
<rect x="0" y="310" width="1" height="1"/>
<rect x="1026" y="302" width="1" height="1"/>
<rect x="0" y="302" width="1" height="1"/>
<rect x="1026" y="295" width="2" height="1"/>
<rect x="0" y="295" width="1" height="1"/>
<rect x="1026" y="288" width="1" height="1"/>
<rect x="0" y="288" width="1" height="1"/>
<rect x="1026" y="280" width="1" height="1"/>
<rect x="0" y="280" width="1" height="1"/>
<rect x="1026" y="273" width="1" height="1"/>
<rect x="0" y="273" width="1" height="1"/>
<rect x="1026" y="265" width="1" height="1"/>
<rect x="0" y="265" width="1" height="1"/>
<rect x="1026" y="258" width="2" height="1"/>
<rect x="0" y="258" width="1" height="1"/>
<rect x="1026" y="250" width="1" height="1"/>
<rect x="0" y="250" width="1" height="1"/>
<rect x="1026" y="242" width="1" height="1"/>
<rect x="0" y="242" width="1" height="1"/>
<rect x="1026" y="235" width="1" height="1"/>
<rect x="0" y="235" width="1" height="1"/>
<rect x="1026" y="227" width="1" height="1"/>
<rect x="0" y="227" width="1" height="1"/>
<rect x="1026" y="220" width="2" height="1"/>
<rect x="0" y="220" width="1" height="1"/>
<rect x="1026" y="212" width="1" height="1"/>
<rect x="0" y="212" width="1" height="1"/>
<rect x="1026" y="204" width="1" height="1"/>
<rect x="0" y="204" width="1" height="1"/>
<rect x="1026" y="197" width="1" height="1"/>
<rect x="0" y="197" width="1" height="1"/>
<rect x="1026" y="189" width="1" height="1"/>
<rect x="0" y="189" width="1" height="1"/>
<rect x="1026" y="182" width="2" height="1"/>
<rect x="0" y="182" width="1" height="1"/>
<rect x="1026" y="175" width="1" height="1"/>
<rect x="0" y="175" width="1" height="1"/>
<rect x="1026" y="167" width="1" height="1"/>
<rect x="0" y="167" width="1" height="1"/>
<rect x="1026" y="160" width="1" height="1"/>
<rect x="0" y="160" width="1" height="1"/>
<rect x="1026" y="152" width="1" height="1"/>
<rect x="0" y="152" width="1" height="1"/>
<rect x="1026" y="145" width="2" height="1"/>
<rect x="0" y="145" width="1" height="1"/>
<rect x="1026" y="137" width="1" height="1"/>
<rect x="0" y="137" width="1" height="1"/>
<rect x="1026" y="129" width="1" height="1"/>
<rect x="0" y="129" width="1" height="1"/>
<rect x="1026" y="122" width="1" height="1"/>
<rect x="0" y="122" width="1" height="1"/>
<rect x="1026" y="114" width="1" height="1"/>
<rect x="0" y="114" width="1" height="1"/>
<rect x="1026" y="107" width="2" height="1"/>
<rect x="0" y="107" width="1" height="1"/>
<rect x="1026" y="99" width="1" height="1"/>
<rect x="0" y="99" width="1" height="1"/>
<rect x="1026" y="91" width="1" height="1"/>
<rect x="0" y="91" width="1" height="1"/>
<rect x="1026" y="84" width="1" height="1"/>
<rect x="0" y="84" width="1" height="1"/>
<rect x="1026" y="76" width="1" height="1"/>
<rect x="0" y="76" width="1" height="1"/>
<rect x="1026" y="69" width="2" height="1"/>
<rect x="0" y="69" width="1" height="1"/>
<rect x="1026" y="61" width="1" height="1"/>
<rect x="0" y="61" width="1" height="1"/>
<rect x="1026" y="53" width="1" height="1"/>
<rect x="0" y="53" width="1" height="1"/>
<rect x="1026" y="46" width="1" height="1"/>
<rect x="0" y="46" width="1" height="1"/>
<rect x="1026" y="38" width="1" height="1"/>
<rect x="0" y="38" width="1" height="1"/>
<rect x="1026" y="31" width="2" height="1"/>
<rect x="0" y="31" width="1" height="1"/>
<rect x="0" y="544" width="1" height="1"/><rect x="1026" y="544" width="1" height="1"/>
<rect x="10" y="545" width="1" height="4"/>
<rect x="68" y="545" width="1" height="4"/>
<rect x="149" y="545" width="1" height="4"/>
<rect x="237" y="545" width="1" height="4"/>
<rect x="318" y="545" width="1" height="4"/>
<rect x="403" y="545" width="1" height="4"/>
<rect x="491" y="545" width="1" height="4"/>
<rect x="568" y="545" width="1" height="4"/>
<rect x="653" y="545" width="1" height="4"/>
<rect x="738" y="545" width="1" height="4"/>
<rect x="819" y="545" width="1" height="4"/>
<rect x="903" y="545" width="1" height="4"/>
<rect x="992" y="545" width="1" height="4"/>
</g>
<text x="1029.97" y="527" font-size="12px" fill="#000" textLength="31.46" lengthAdjust="spacingAndGlyphs">1450</text>
<text x="1029.97" y="489" font-size="12px" fill="#000" textLength="31.46" lengthAdjust="spacingAndGlyphs">1500</text>
<text x="1029.97" y="451" font-size="12px" fill="#000" textLength="31.46" lengthAdjust="spacingAndGlyphs">1550</text>
<text x="1029.97" y="414" font-size="12px" fill="#000" textLength="31.46" lengthAdjust="spacingAndGlyphs">1600</text>
<text x="1029.97" y="376" font-size="12px" fill="#000" textLength="31.46" lengthAdjust="spacingAndGlyphs">1650</text>
<text x="1029.97" y="338" font-size="12px" fill="#000" textLength="31.46" lengthAdjust="spacingAndGlyphs">1700</text>
<text x="1029.97" y="300" font-size="12px" fill="#000" textLength="31.46" lengthAdjust="spacingAndGlyphs">1750</text>
<text x="1029.97" y="263" font-size="12px" fill="#000" textLength="31.46" lengthAdjust="spacingAndGlyphs">1800</text>
<text x="1029.97" y="225" font-size="12px" fill="#000" textLength="31.46" lengthAdjust="spacingAndGlyphs">1850</text>
<text x="1029.97" y="187" font-size="12px" fill="#000" textLength="31.46" lengthAdjust="spacingAndGlyphs">1900</text>
<text x="1029.97" y="150" font-size="12px" fill="#000" textLength="31.46" lengthAdjust="spacingAndGlyphs">1950</text>
<text x="1029.97" y="112" font-size="12px" fill="#000" textLength="31.46" lengthAdjust="spacingAndGlyphs">2000</text>
<text x="1029.97" y="74" font-size="12px" fill="#000" textLength="31.46" lengthAdjust="spacingAndGlyphs">2050</text>
<text x="1029.97" y="36" font-size="12px" fill="#000" textLength="31.46" lengthAdjust="spacingAndGlyphs">2100</text>
<text x="57.75" y="563" font-size="12px" fill="#000" textLength="25.17" lengthAdjust="spacingAndGlyphs">Sep</text>
<text x="140.41" y="563" font-size="12px" fill="#000" textLength="20.83" lengthAdjust="spacingAndGlyphs">Oct</text>
<text x="226.63" y="563" font-size="12px" fill="#000" textLength="26.05" lengthAdjust="spacingAndGlyphs">Nov</text>
<text x="307.63" y="563" font-size="12px" fill="#000" textLength="25.79" lengthAdjust="spacingAndGlyphs">Dec</text>
<text x="396.39" y="563" font-size="12px" fill="#000" textLength="19.11" lengthAdjust="spacingAndGlyphs">Jan</text>
<text x="481.83" y="563" font-size="12px" fill="#000" textLength="23.14" lengthAdjust="spacingAndGlyphs">Feb</text>
<text x="557.63" y="563" font-size="12px" fill="#000" textLength="24.49" lengthAdjust="spacingAndGlyphs">Mar</text>
<text x="643.74" y="563" font-size="12px" fill="#000" textLength="22.06" lengthAdjust="spacingAndGlyphs">Apr</text>
<text x="726.74" y="563" font-size="12px" fill="#000" textLength="26.62" lengthAdjust="spacingAndGlyphs">May</text>
<text x="811.89" y="563" font-size="12px" fill="#000" textLength="19.75" lengthAdjust="spacingAndGlyphs">Jun</text>
<text x="897.79" y="563" font-size="12px" fill="#000" textLength="15.21" lengthAdjust="spacingAndGlyphs">Jul</text>
<text x="981.82" y="563" font-size="12px" fill="#000" textLength="25.65" lengthAdjust="spacingAndGlyphs">Aug</text>
<text x="10.34" y="21" font-size="16px" fill="#000" textLength="60.53" lengthAdjust="spacingAndGlyphs">London</text>
<text x="75.66" y="21" font-size="16px" fill="#000" textLength="38.09" lengthAdjust="spacingAndGlyphs">Spot</text>
<text x="119.31" y="21" font-size="16px" fill="#000" textLength="38.52" lengthAdjust="spacingAndGlyphs">Gold</text>
<text x="161.59" y="21" font-size="16px" fill="#000" textLength="66.05" lengthAdjust="spacingAndGlyphs">(GOLDS</text>
<text x="233.22" y="21" font-size="16px" fill="#000" textLength="78.67" lengthAdjust="spacingAndGlyphs">COMDTY)</text>
<text x="317.65" y="21" font-size="16px" fill="#000" textLength="71.25" lengthAdjust="spacingAndGlyphs">1914.54</text>
<text x="394.11" y="21" font-size="16px" fill="#ff0000" textLength="54.65" lengthAdjust="spacingAndGlyphs">-112.8</text>
<text x="984.48" y="20" font-size="15px" fill="#000" textLength="89.93" lengthAdjust="spacingAndGlyphs">2020-08-11</text>
<rect x="10" y="31" width="33" height="17" fill="#fff"/>
<text x="9.73" y="45" font-size="13.33px" fill="#0000cc" textLength="32.78" lengthAdjust="spacingAndGlyphs">Daily</text>
<text x="0.25" y="590" font-size="14.67px" fill="#0000ff" textLength="212.25" lengthAdjust="spacingAndGlyphs">www.fullertreacymoney.com</text>
<text x="625.08" y="590" font-size="12px" fill="#999999" textLength="448.82" lengthAdjust="spacingAndGlyphs">This website is © 2008-2020 Fuller Treacy Money plc. All rights reserved</text>
</svg></body></html>
